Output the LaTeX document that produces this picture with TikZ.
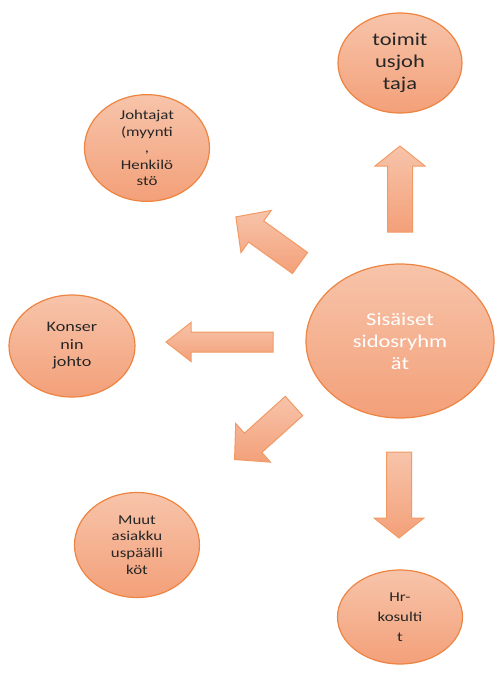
\documentclass[tikz,border=0pt]{standalone}
\usepackage{fontspec}
\setmainfont[FakeStretch=1.25]{Carlito}
\usetikzlibrary{shapes.geometric}

\definecolor{ringorange}{HTML}{EE8441}
\definecolor{peachtop}{HTML}{F7C4AA}
\definecolor{peachbot}{HTML}{F3A079}
\definecolor{arrowline}{HTML}{F29A63}
\definecolor{inktext}{HTML}{262626}

\tikzset{
    bubble/.style={ellipse, draw=ringorange, line width=1.2pt,
        top color=peachtop, bottom color=peachbot, inner sep=0pt,
        align=center, text=inktext},
    blockarrow/.style={draw=arrowline, line width=1pt,
        top color=peachtop, bottom color=peachbot, line join=miter}
}

% tail, angle, length, shaft width, head width, head length
\newcommand{\blockarrow}[6]{%
    \begin{scope}[shift={#1}, rotate=#2]
        \draw[blockarrow] (0,-#4/2) -- (#3-#6,-#4/2) -- (#3-#6,-#5/2) -- (#3,0)
            -- (#3-#6,#5/2) -- (#3-#6,#4/2) -- (0,#4/2) -- cycle;
    \end{scope}}

\begin{document}
\begin{tikzpicture}[x=1pt,y=-1pt]
    \useasboundingbox (0,0) rectangle (497,673);

    \node[bubble, minimum width=188pt, minimum height=154pt, text=white,
        font=\fontsize{18}{22}\selectfont] (sisaiset) at (400,341)
        {Sisäiset\\sidosryhm\\ät};
    \node[bubble, minimum width=124pt, minimum height=100pt,
        font=\fontsize{18}{22}\selectfont] (ceo) at (400,63)
        {toimit\\usjoh\\taja};
    \node[bubble, minimum width=125pt, minimum height=105pt,
        font=\fontsize{13.5}{16.5}\selectfont] (johtajat) at (147,148)
        {Johtajat\\(myynti\\,\\Henkilö\\stö};
    \node[bubble, minimum width=126pt, minimum height=102pt,
        font=\fontsize{14.5}{17.5}\selectfont] (konserni) at (72,346)
        {Konser\\nin\\johto};
    \node[bubble, minimum width=125pt, minimum height=105pt,
        font=\fontsize{13.5}{16.7}\selectfont] (muut) at (137,545)
        {Muut\\asiakku\\uspäälli\\köt};
    \node[bubble, minimum width=125pt, minimum height=94pt,
        font=\fontsize{13.5}{20}\selectfont] (hr) at (400,617)
        {Hr-\\kosulti\\t};

    % arrow tails
    \coordinate (upTail) at (400,232);
    \coordinate (downTail) at (399,452);
    \coordinate (leftTail) at (273,342);
    \coordinate (upLeftTail) at (300,263);
    \coordinate (downLeftTail) at (294,406);

    \blockarrow{(upTail)}{90}{86}{25}{50}{20}
    \blockarrow{(downTail)}{270}{86}{25}{50}{20}
    \blockarrow{(leftTail)}{180}{107}{20}{39}{25}
    \blockarrow{(upLeftTail)}{144.3}{79}{26}{52}{25}
    \blockarrow{(downLeftTail)}{222}{80}{26}{52}{25}
\end{tikzpicture}
\end{document}
